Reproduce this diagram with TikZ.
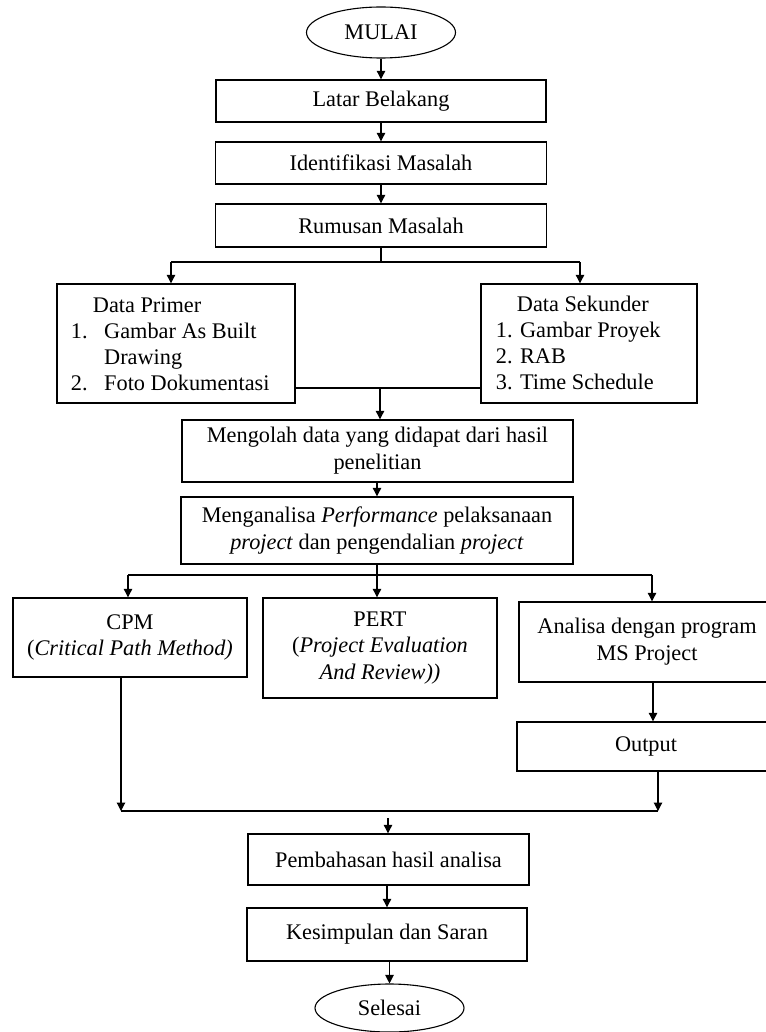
\documentclass[tikz,border=0pt]{standalone}
\usepackage{fontspec}
\setmainfont{Liberation Serif}
\usetikzlibrary{arrows.meta,shapes.geometric}
\newcommand\diafont{\fontsize{22.3}{26.8}\selectfont}
\begin{document}
\begin{tikzpicture}[x=1pt,y=-1pt,
  box/.style={draw, line width=1.4pt, inner sep=0pt, align=center, font=\diafont},
  oval/.style={draw, ellipse, line width=1.1pt, inner sep=0pt, font=\diafont},
  txt/.style={inner sep=0pt, anchor=base west, font=\diafont},
  link/.style={line width=1.1pt},
  arr/.style={line width=1.1pt, -{Triangle[width=8.5pt,length=8.5pt]}}]
\useasboundingbox (0,0) rectangle (765,1032);
% top chain
\node[oval, minimum width=149pt, minimum height=51pt] (mulai) at (381,32.5) {MULAI};
\node[box, minimum width=330pt, minimum height=42pt] (latar) at (381,101) {Latar Belakang};
\node[box, minimum width=331pt, minimum height=42pt] (ident) at (381,163) {Identifikasi Masalah};
\node[box, minimum width=331pt, minimum height=43pt] (rumus) at (381,225.5) {Rumusan Masalah};
% data boxes
\node[box, minimum width=238pt, minimum height=119pt] (dp) at (176,343.5) {};
\node[box, minimum width=216pt, minimum height=119pt] (ds) at (589,343.5) {};
\node[txt] (dp0) at (92.7,312) {Data Primer};
\node[txt] (dp1n) at (70.7,338) {1.};
\node[txt] (dp1) at (104,338) {Gambar As Built};
\node[txt] (dp1b) at (104,364) {Drawing};
\node[txt] (dp2n) at (70.7,390) {2.};
\node[txt] (dp2) at (104,390) {Foto Dokumentasi};
\node[txt] (ds0) at (516.7,311.5) {Data Sekunder};
\node[txt] (ds1) at (495.7,337.5) {1. Gambar Proyek};
\node[txt] (ds2) at (495.7,363.5) {2. RAB};
\node[txt] (ds3) at (495.7,389.5) {3. Time Schedule};
% processing
\node[box, minimum width=391pt, minimum height=62pt] (olah) at (377.5,451) {Mengolah data yang didapat dari hasil\\penelitian};
\node[box, minimum width=392pt, minimum height=67pt] (anal) at (377,530.5) {Menganalisa \textit{Performance} pelaksanaan\\\textit{project} dan pengendalian \textit{project}};
% methods
\node[box, minimum width=234pt, minimum height=79pt] (cpm) at (130,637.5) {CPM\\(\textit{Critical Path Method)}};
\node[box, minimum width=234pt, minimum height=100pt] (pert) at (380,648) {PERT\\(\textit{Project Evaluation}\\\textit{And Review))}};
\node[box, minimum width=256pt, minimum height=80pt] (ms) at (647,642) {Analisa dengan program\\MS Project};
\node[box, minimum width=258pt, minimum height=49pt] (out) at (646,746.5) {Output};
% bottom chain
\node[box, minimum width=281pt, minimum height=51pt] (pemb) at (388.5,859.5) {Pembahasan hasil analisa};
\node[box, minimum width=280pt, minimum height=53pt] (kesi) at (387,934.5) {Kesimpulan dan Saran};
\node[oval, minimum width=149pt, minimum height=48pt] (sele) at (389.5,1008) {Selesai};
% junction points
\coordinate (j1) at (381,262);
\coordinate (j1l) at (171,262);
\coordinate (j1r) at (580,262);
\coordinate (j2) at (380,388);
\coordinate (j3) at (377,575);
\coordinate (j3l) at (128,575);
\coordinate (j3r) at (652,575);
\coordinate (c1) at (121,811);
\coordinate (c2) at (658,811);
\coordinate (c3) at (388,818);
% connectors
\draw[arr] (mulai.south) -- (latar.north);
\draw[arr] (latar.south) -- (ident.north);
\draw[arr] (ident.south) -- (rumus.north);
\draw[link] (rumus.south) -- (j1);
\draw[link] (j1l) -- (j1r);
\draw[arr] (j1l) -- (j1l |- dp.north);
\draw[arr] (j1r) -- (j1r |- ds.north);
\draw[link] (dp.east |- j2) -- (ds.west |- j2);
\draw[arr] (j2) -- (olah.north -| j2);
\draw[arr] (olah.south -| anal.south) -- (anal.north);
\draw[link] (anal.south) -- (j3);
\draw[link] (j3l) -- (j3r);
\draw[arr] (j3l) -- (j3l |- cpm.north);
\draw[arr] (j3) -- (j3 |- pert.north);
\draw[arr] (j3r) -- (j3r |- ms.north);
\draw[arr] (ms.south -| 653,0) -- (out.north -| 653,0);
\draw[arr] (cpm.south -| c1) -- (c1);
\draw[arr] (out.south -| c2) -- (c2);
\draw[link] (c1) -- (c2);
\draw[arr] (c3) -- (pemb.north -| c3);
\draw[arr] (pemb.south -| kesi.north) -- (kesi.north);
\draw[arr] (kesi.south -| sele.north) -- (sele.north);
\end{tikzpicture}
\end{document}
